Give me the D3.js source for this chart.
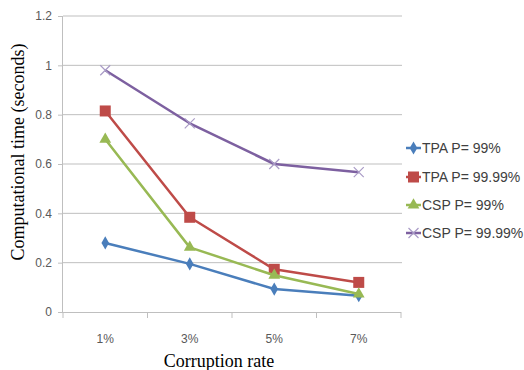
<!DOCTYPE html>
<html><head><meta charset="utf-8">
<script src="https://cdn.jsdelivr.net/npm/d3@7"></script>
<style>body{margin:0;background:#fff}svg{display:block}</style>
</head><body>
<script>
const categories = ["1%", "3%", "5%", "7%"];
const seriesNames = ["TPA P= 99%", "TPA P= 99.99%", "CSP P= 99%", "CSP P= 99.99%"];
const tpa99 = [0.28, 0.195, 0.093, 0.066];
const tpa9999 = [0.815, 0.384, 0.173, 0.12];
const csp99 = [0.70, 0.262, 0.149, 0.073];
const csp9999 = [0.98, 0.765, 0.60, 0.567];
const yTicks = [0, 0.2, 0.4, 0.6, 0.8, 1, 1.2];
const colors = ["#4A7EBB", "#BE4B48", "#98B954", "#7D60A0"];
const markers = ["diamond", "square", "triangle", "x"];
const allSeries = [tpa99, tpa9999, csp99, csp9999];

const W = 524, H = 370;
const svg = d3.select("body").append("svg").attr("width", W).attr("height", H);
const x0 = 63, x1 = 401, yTop = 16, yBot = 312;
const x = d3.scaleBand().domain(categories).range([x0, x1]);
const y = d3.scaleLinear().domain([0, 1.2]).range([yBot, yTop]);

// gridlines
svg.append("g").selectAll("line").data(yTicks.filter(d => d > 0)).join("line")
  .attr("x1", x0).attr("x2", x1 + 1).attr("y1", d => y(d)).attr("y2", d => y(d))
  .attr("stroke", "#BFBFBF").attr("stroke-width", 1);

// y axis
const ya = svg.append("g").attr("transform", `translate(${x0},0)`)
  .call(d3.axisLeft(y).tickValues(yTicks).tickSize(5).tickPadding(6).tickFormat(d => d3.format("")(d)));
ya.select(".domain").attr("stroke", "#BFBFBF").attr("d", `M-0.5,${yTop}V${yBot}`);
ya.selectAll(".tick line").attr("stroke", "#BFBFBF");
ya.selectAll("text").attr("fill", "#595959").style("font", "12px 'Liberation Sans', Arial, sans-serif");

// x axis
const xa = svg.append("g").attr("transform", `translate(0,${yBot})`)
  .call(d3.axisBottom(x).tickSize(0).tickPadding(22));
xa.select(".domain").attr("stroke", "#BFBFBF").attr("d", `M${x0},0.5H${x1}`);
xa.selectAll("text").attr("fill", "#595959").style("font", "12px 'Liberation Sans', Arial, sans-serif");
// category boundary ticks
svg.append("g").selectAll("line").data(d3.range(categories.length + 1)).join("line")
  .attr("x1", i => x0 + i * x.step()).attr("x2", i => x0 + i * x.step())
  .attr("y1", yBot).attr("y2", yBot + 6).attr("stroke", "#BFBFBF");

// axis titles
svg.append("text").attr("x", 219).attr("y", 367).attr("text-anchor", "middle")
  .style("font", "18px 'Liberation Serif', 'Times New Roman', serif").attr("fill", "#000").text("Corruption rate");
svg.append("text").attr("transform", "translate(24,152) rotate(-90)").attr("text-anchor", "middle")
  .style("font", "18px 'Liberation Serif', 'Times New Roman', serif").attr("fill", "#000").text("Computational time (seconds)");

function drawMarker(g, type, cx, cy, color) {
  if (type === "diamond") {
    g.append("path").attr("d", d3.symbol(d3.symbolDiamond, 50)()).attr("transform", `translate(${cx},${cy})`).attr("fill", color);
  } else if (type === "square") {
    g.append("rect").attr("x", cx - 5.5).attr("y", cy - 5.5).attr("width", 11).attr("height", 11).attr("fill", color);
  } else if (type === "triangle") {
    g.append("path").attr("d", d3.symbol(d3.symbolTriangle, 60)()).attr("transform", `translate(${cx},${cy})`).attr("fill", color);
  } else {
    g.append("path").attr("d", `M${cx-5},${cy-5}L${cx+5},${cy+5}M${cx-5},${cy+5}L${cx+5},${cy-5}`)
      .attr("stroke", "#A99BC6").attr("stroke-width", 1.2).attr("fill", "none");
  }
}

const line = d3.line().x((d, i) => x(categories[i]) + x.bandwidth() / 2).y(d => y(d));
allSeries.forEach((s, k) => {
  const g = svg.append("g");
  g.append("path").attr("d", line(s)).attr("fill", "none").attr("stroke", colors[k]).attr("stroke-width", 2.5)
    .attr("stroke-linejoin", "round");
  s.forEach((v, i) => drawMarker(g, markers[k], x(categories[i]) + x.bandwidth() / 2, y(v), colors[k]));
});

// legend
const legY = [148, 177, 205, 233];
seriesNames.forEach((n, k) => {
  const g = svg.append("g");
  g.append("line").attr("x1", 406).attr("x2", 421).attr("y1", legY[k]).attr("y2", legY[k])
    .attr("stroke", colors[k]).attr("stroke-width", 2.5);
  drawMarker(g, markers[k], 413.5, legY[k], colors[k]);
  g.append("text").attr("x", 422).attr("y", legY[k] + 5).attr("fill", "#404040")
    .style("font", "14px 'Liberation Sans Narrow', 'Liberation Sans', Arial, sans-serif").text(n);
});
</script>
</body></html>
